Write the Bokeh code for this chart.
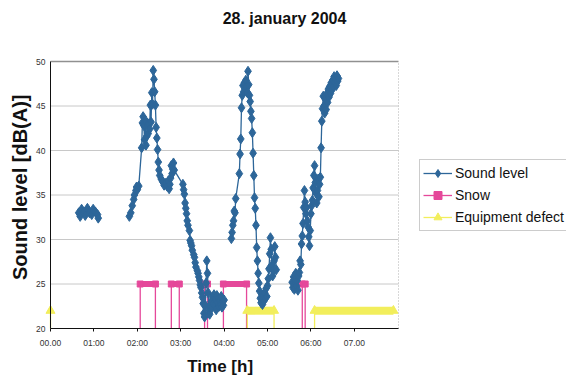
import math
from bokeh.plotting import figure
from bokeh.models import Range1d, FixedTicker, Legend, LegendItem, Label
from bokeh.embed import file_html
from bokeh.resources import INLINE

NAN = float("nan")

# ---- Sound level dB(A); time in minutes after 00:00 ----
a_t = [39, 41, 43, 46, 48, 51, 54, 57, 59, 62, 65, 66]
a_v = [33.0, 32.6, 33.4, 33.1, 32.7, 33.5, 33.0, 32.8, 33.4, 33.1, 32.8, 32.4]

b_t = [109, 111, 113, 115, 116, 118, 119, 120, 122,
       126, 127, 128, 129, 130, 131, 132, 133, 134, 135, 136, 137, 138, 139, 140, 141, 142, 143,
       144, 145, 146, 147, 148, 149, 150, 151,
       153, 155, 157, 159, 161, 163,
       164, 165, 166, 167, 168, 169, 170, 171,
       183, 184, 185, 186, 187, 188, 189, 190,
       192, 193, 194, 195, 196,
       198, 199, 200, 201,
       203, 204, 205, 206, 207, 208, 209, 210, 211, 212, 213, 214, 215, 216, 217, 218, 219,
       220, 221, 222, 223, 224, 225, 226, 227, 228, 229, 230, 231, 232, 233, 234, 235, 236,
       237, 238, 239, 240]
b_v = [32.6, 33.0, 33.8, 34.5, 35.0, 35.5, 35.9, 35.6, 36.0,
       40.3, 43.1, 43.8, 42.8, 41.2, 43.4, 40.6, 41.6, 42.9, 41.9, 43.0, 42.4, 45.1, 43.2, 46.5, 45.2, 49.0, 48.0,
       46.6, 45.1, 42.6, 41.4, 40.1, 38.7, 37.8, 37.2,
       36.8, 36.5, 36.1, 36.3, 36.0, 36.6,
       35.7, 36.2, 36.9, 38.3, 37.4, 37.9, 38.6, 37.8,
       36.2, 35.6, 35.1, 34.1, 33.5, 32.9, 32.1, 31.6,
       31.0, 29.9, 29.6, 29.3, 28.8,
       28.3, 28.0, 27.4, 26.9,
       26.5, 26.2, 25.8, 25.4, 24.9, 24.6, 24.0, 23.5, 22.8, 21.7, 21.3, 22.6, 25.1, 27.6, 26.2, 24.0, 22.0,
       21.6, 22.4, 23.0, 22.3, 23.5, 22.8, 23.8, 22.6, 23.3, 22.1, 23.7, 22.9, 23.4, 22.5, 23.1, 22.7, 23.6,
       22.4, 23.0, 22.6, 23.2]

c_t = [250, 251, 252, 253, 254, 255, 256,
       261, 262, 263, 264, 265, 266, 267, 268, 269, 270, 271, 272, 273,
       274, 275, 276, 277, 278, 279, 280, 281, 282, 283, 284, 285, 286, 287, 288,
       289, 290, 291, 292, 293, 294, 295, 296, 297, 298, 299, 300,
       301, 302, 303, 304, 305, 306, 307, 308, 309, 310, 311, 312]
c_v = [30.1, 30.8, 31.6, 32.1, 33.2, 33.0, 34.6,
       37.4, 39.6, 41.3, 44.8, 46.2, 47.3, 46.6, 47.6, 46.9, 47.9, 47.2, 46.5, 48.9,
       47.4, 46.2, 45.5, 44.4, 43.6, 42.0, 39.7, 37.2, 34.7, 33.5, 31.6, 29.1, 27.6, 26.2, 25.1,
       24.2, 23.4, 22.9, 23.5, 22.7, 23.8, 23.1, 24.0, 23.4, 24.5, 23.6, 24.8,
       25.6, 26.7, 28.4, 30.2, 28.9, 27.1, 25.9, 26.5, 27.6, 29.2, 28.0, 26.6]

d_t = [334, 335, 336, 337, 338, 339, 340, 341, 342, 343, 344, 345, 346, 347, 348, 349, 350,
       351, 352, 353, 354, 355, 356, 357, 358, 359, 360, 361, 362, 363, 364, 365, 366, 367,
       368, 369, 370, 371, 372, 373, 374, 375, 376, 377, 378, 379, 380, 381, 382, 383, 384,
       385, 386, 387, 388, 389, 390, 391, 392, 393, 394, 395, 396, 397, 398]
d_v = [25.2, 24.6, 25.8, 24.4, 25.5, 26.2, 24.8, 25.4, 24.3, 25.9, 26.3, 27.6, 27.2, 29.5, 30.4, 31.8, 33.6,
       35.5, 34.2, 32.9, 33.6, 32.1, 31.4, 30.3, 29.3, 31.0, 32.9, 33.8, 34.4, 35.8, 37.2, 38.3, 36.4, 35.2,
       34.1, 35.5, 36.8, 34.8, 36.2, 37.0, 40.3, 43.3, 44.7, 46.1, 45.0, 44.2, 45.8, 44.6, 46.4, 45.4, 46.9,
       46.0, 47.2, 46.4, 47.6, 46.8, 47.9, 47.2, 48.3, 47.6, 48.0, 47.3, 48.4, 47.8, 48.1]

# ---- Snow (25 = snowing, 0 = no snow) ----
snow_t = [124, 124, 145, 145, 167, 167, 178, 178, 213, 213, 217, 217, 239, 239, 271, 271, 348, 348, 352, 352]
snow_v = [0, 25, 25, 0, 0, 25, 25, 0, 0, 25, 25, 0, 0, 25, 25, 0, 0, 25, 25, 0]

# ---- Equipment defect (22 = defect, 0 = ok) ----
defect_t = [0, 0, 272, 272, 309, 309, 365, 365, 474]
defect_v = [22, 0, 0, 22, 22, 0, 0, 22, 22]

x_ticks = [0, 60, 120, 180, 240, 300, 360, 420]
x_labels = ["00.00", "01:00", "02:00", "03:00", "04:00", "05:00", "06:00", "07.00"]
y_ticks = [20, 25, 30, 35, 40, 45, 50]

TITLE = "28. january 2004"
X_TITLE = "Time  [h]"
Y_TITLE = "Sound level  [dB(A)]"

BLUE = "#2d6699"
PINK = "#e5489a"
YELLOW = "#f2ee5c"
FONT = "Liberation Sans"

# ---- layout (pixels) ----
W, H = 566, 380
PL, PR, PT, PB = 50, 398, 61, 328
X_MIN, X_MAX = 0, 481
Y_MIN, Y_MAX = 20, 50
kx = (PR - PL) / (X_MAX - X_MIN)
ky = (PB - PT) / (Y_MAX - Y_MIN)
def px2x(px):
    return X_MIN + (px - PL) / kx
def py2y(py):
    return Y_MIN + (PB - py) / ky

sound_t = a_t + [NAN] + b_t + [NAN] + c_t + [NAN] + d_t
sound_v = a_v + [NAN] + b_v + [NAN] + c_v + [NAN] + d_v

p = figure(width=W, height=H, output_backend="svg", toolbar_location=None, title=None,
           x_range=Range1d(px2x(0), px2x(W)), y_range=Range1d(py2y(H), py2y(0)),
           min_border=0)
p.outline_line_color = None
p.background_fill_color = "white"
p.border_fill_color = "white"
p.grid.visible = False

p.xaxis.fixed_location = Y_MIN
p.xaxis.bounds = (X_MIN, X_MAX)
p.yaxis.fixed_location = X_MIN
p.yaxis.bounds = (Y_MIN, Y_MAX)
p.xaxis.ticker = FixedTicker(ticks=x_ticks)
p.xaxis.major_label_overrides = {t: l for t, l in zip(x_ticks, x_labels)}
p.yaxis.ticker = FixedTicker(ticks=y_ticks)
for ax in (p.xaxis, p.yaxis):
    ax.axis_line_color = "#111111"
    ax.major_tick_line_color = "#111111"
    ax.minor_tick_line_color = None
    ax.major_tick_in = 0
    ax.major_label_text_font = FONT
    ax.major_label_text_font_size = "8.5px"
    ax.major_label_text_color = "#333333"
p.xaxis.major_tick_out = 3
p.xaxis.major_label_standoff = 6
p.yaxis.major_tick_out = 0
p.yaxis.major_label_standoff = 5

# horizontal grid lines, top border and dotted right border of the plot area
g = y_ticks[1:-1]
p.segment(x0=[X_MIN] * len(g), y0=g, x1=[X_MAX] * len(g), y1=g, line_color="#c8c8c8", line_width=1)
p.segment(x0=[X_MIN], y0=[Y_MAX], x1=[X_MAX], y1=[Y_MAX], line_color="#909090", line_width=1.5)
p.segment(x0=[X_MAX], y0=[Y_MIN], x1=[X_MAX], y1=[Y_MAX], line_color="#b0b0b0", line_width=1, line_dash="1 2")

def step_parts(ts, vs):
    """vertical transitions (clipped at the axis floor) and 'on' stretches"""
    vx, vy0, vy1, hx0, hx1, hy = [], [], [], [], [], []
    for i in range(len(ts) - 1):
        if ts[i] == ts[i + 1]:
            vx.append(ts[i]); vy0.append(max(min(vs[i], vs[i + 1]), Y_MIN)); vy1.append(max(vs[i], vs[i + 1]))
        elif vs[i] > 0 and vs[i + 1] > 0:
            hx0.append(ts[i]); hx1.append(ts[i + 1]); hy.append(vs[i])
    return vx, vy0, vy1, hx0, hx1, hy

# snow
vx, vy0, vy1, hx0, hx1, hy = step_parts(snow_t, snow_v)
snow_line = p.segment(x0=vx, y0=vy0, x1=vx, y1=vy1, line_color=PINK, line_width=1.3)
p.segment(x0=hx0, y0=hy, x1=hx1, y1=hy, line_color=PINK, line_width=6)
snow_on_t = [t for t, v in zip(snow_t, snow_v) if v > 0]
snow_on_v = [v for v in snow_v if v > 0]
snow_pts = p.scatter(snow_on_t, snow_on_v, marker="square", size=6, fill_color=PINK, line_color=PINK)

# equipment defect
vx, vy0, vy1, hx0, hx1, hy = step_parts(defect_t, defect_v)
def_line = p.segment(x0=vx, y0=vy0, x1=vx, y1=vy1, line_color=YELLOW, line_width=1.3)
p.segment(x0=hx0, y0=hy, x1=hx1, y1=hy, line_color=YELLOW, line_width=8)
def_on_t = [t for t, v in zip(defect_t, defect_v) if v > 0]
def_on_v = [v for v in defect_v if v > 0]
def_pts = p.scatter(def_on_t, def_on_v, marker="triangle", size=9, fill_color=YELLOW, line_color=YELLOW)

# sound level
sl_line = p.line(sound_t, sound_v, line_color=BLUE, line_width=1.3)
sl_pts = p.scatter(sound_t, sound_v, marker="diamond", size=10,
                   fill_color=BLUE, line_color=BLUE)

# titles
p.add_layout(Label(x=px2x(284), y=py2y(18), text=TITLE, text_align="center", text_baseline="middle",
                   text_font=FONT, text_font_size="16px", text_font_style="bold", text_color="#111111"))
p.add_layout(Label(x=px2x(222), y=py2y(366), text=X_TITLE, text_align="center", text_baseline="middle",
                   text_font=FONT, text_font_size="17px", text_font_style="bold", text_color="#111111"))
p.add_layout(Label(x=px2x(19), y=py2y(184), text=Y_TITLE, text_align="center", text_baseline="middle",
                   angle=math.pi / 2, text_font=FONT, text_font_size="20px", text_font_style="bold",
                   text_color="#111111"))

legend = Legend(items=[
    LegendItem(label="Sound level", renderers=[sl_line, sl_pts]),
    LegendItem(label="Snow", renderers=[snow_line, snow_pts]),
    LegendItem(label="Equipment defect", renderers=[def_line, def_pts]),
], location=(419, H - 231))
legend.label_text_font = FONT
legend.label_text_font_size = "14px"
legend.label_text_color = "#111111"
legend.border_line_color = "#999999"
legend.background_fill_color = "white"
legend.background_fill_alpha = 1.0
legend.glyph_width = 29
legend.glyph_height = 20
legend.label_height = 20
legend.label_standoff = 3
legend.spacing = 2
legend.padding = 3
legend.margin = 0
p.add_layout(legend)

open("out.html", "w").write(file_html(p, INLINE))
